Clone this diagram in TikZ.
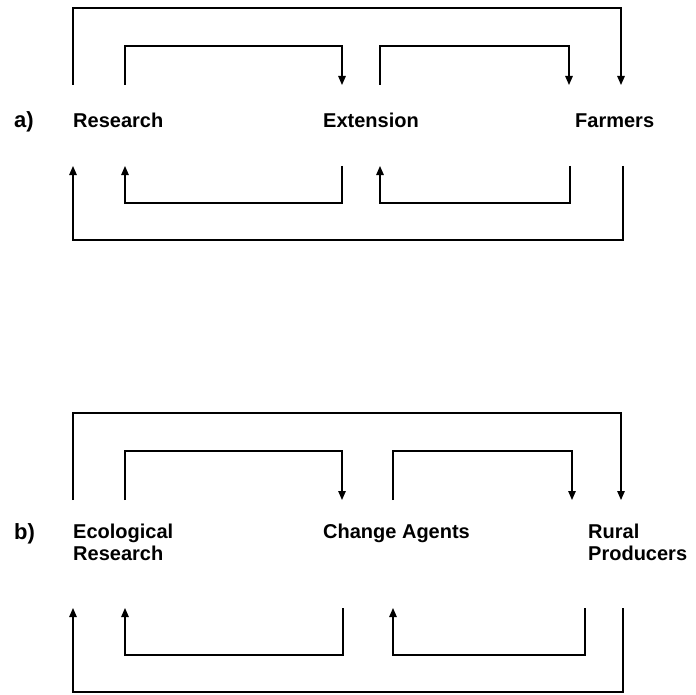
\documentclass[tikz,border=0pt]{standalone}
\usepackage{fontspec}
\setmainfont{Liberation Sans}
\usetikzlibrary{arrows.meta}
\newcommand{\twolines}[2]{\vtop{\hbox{#1}\hbox{#2}}}
\begin{document}
\begin{tikzpicture}[x=1pt,y=-1pt,
  link/.style={line width=1.3pt},
  flow/.style={link,-{Triangle[length=9pt,width=7.5pt]}},
  lbl/.style={font=\fontsize{20}{22}\selectfont\bfseries, anchor=base west, inner sep=0pt},
  tag/.style={font=\fontsize{22}{26}\selectfont\bfseries, anchor=base west, inner sep=0pt}]
\useasboundingbox (0,0) rectangle (695,695);

% ---------- panel a ----------
\node[tag] (taga) at (14,128) {a)};
\node[lbl] (res)  at (73,128)  {Research};
\node[lbl] (ext)  at (323,128) {Extension};
\node[lbl] (farm) at (575,128) {Farmers};

% top connectors
\coordinate (a1s) at (73,85);   \coordinate (a1c) at (73,8);   \coordinate (a1e) at (621,85);
\coordinate (a2s) at (125,85);  \coordinate (a2c) at (125,46); \coordinate (a2e) at (342,85);
\coordinate (a3s) at (380,85);  \coordinate (a3c) at (380,46); \coordinate (a3e) at (569,85);
\draw[flow] (a1s) -- (a1c) -| (a1e);
\draw[flow] (a2s) -- (a2c) -| (a2e);
\draw[flow] (a3s) -- (a3c) -| (a3e);
% bottom connectors
\coordinate (a4s) at (342,166); \coordinate (a4c) at (342,203); \coordinate (a4e) at (125,166);
\coordinate (a5s) at (570,166); \coordinate (a5c) at (570,203); \coordinate (a5e) at (380,166);
\coordinate (a6s) at (623,166); \coordinate (a6c) at (623,240); \coordinate (a6e) at (73,166);
\draw[flow] (a4s) -- (a4c) -| (a4e);
\draw[flow] (a5s) -- (a5c) -| (a5e);
\draw[flow] (a6s) -- (a6c) -| (a6e);

% ---------- panel b ----------
\node[tag] (tagb) at (14,539) {b)};
\node[lbl] (eco)  at (73,538)  {\twolines{Ecological}{Research}};
\node[lbl] (chg)  at (323,538) {Change Agents};
\node[lbl] (rur)  at (588,538) {\twolines{Rural}{Producers}};

\coordinate (b1s) at (73,500);  \coordinate (b1c) at (73,413);  \coordinate (b1e) at (621,500);
\coordinate (b2s) at (125,500); \coordinate (b2c) at (125,451); \coordinate (b2e) at (342,500);
\coordinate (b3s) at (393,500); \coordinate (b3c) at (393,451); \coordinate (b3e) at (572,500);
\draw[flow] (b1s) -- (b1c) -| (b1e);
\draw[flow] (b2s) -- (b2c) -| (b2e);
\draw[flow] (b3s) -- (b3c) -| (b3e);
\coordinate (b4s) at (343,608); \coordinate (b4c) at (343,655); \coordinate (b4e) at (125,608);
\coordinate (b5s) at (585,608); \coordinate (b5c) at (585,655); \coordinate (b5e) at (393,608);
\coordinate (b6s) at (623,608); \coordinate (b6c) at (623,692); \coordinate (b6e) at (73,608);
\draw[flow] (b4s) -- (b4c) -| (b4e);
\draw[flow] (b5s) -- (b5c) -| (b5e);
\draw[flow] (b6s) -- (b6c) -| (b6e);
\end{tikzpicture}
\end{document}
